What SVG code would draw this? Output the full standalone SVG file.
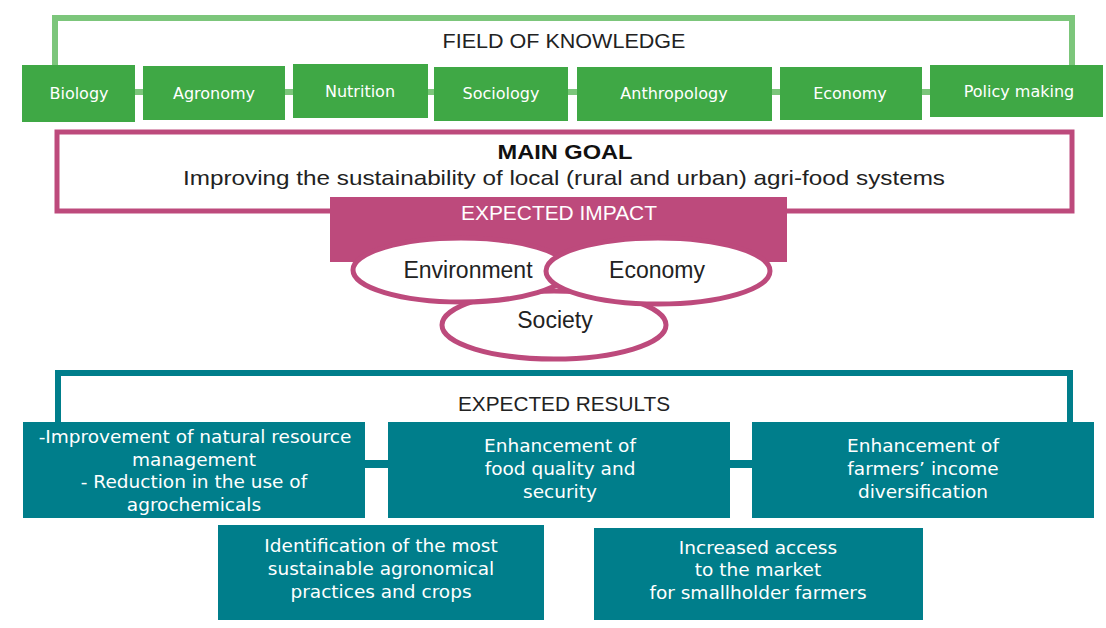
<svg xmlns="http://www.w3.org/2000/svg" width="1106" height="628" viewBox="0 0 1106 628">
<style>
.g{fill:#3fa845}
.gt{font-family:"DejaVu Sans",Verdana,sans-serif;font-size:16px;fill:#fff;text-anchor:middle}
.t{fill:#007e8b}
.tt{font-family:"DejaVu Sans",Verdana,sans-serif;font-size:18.5px;fill:#fff;text-anchor:middle}
.h{font-family:"Liberation Sans",Arial,sans-serif;font-size:21px;fill:#222;text-anchor:middle}
.el{fill:#fff;stroke:#bd4a7c;stroke-width:5}
.et{font-family:"Liberation Sans",Arial,sans-serif;font-size:23px;fill:#222;text-anchor:middle}
</style>
<rect width="1106" height="628" fill="#fff"/>
<g id="connectors">
  <path d="M55,66 V18 H1072 V66" fill="none" stroke="#7cc67b" stroke-width="6"/>
  <line x1="130" y1="92" x2="935" y2="92" stroke="#7cc67b" stroke-width="6"/>
  <path d="M58,423 V373 H1070 V423" fill="none" stroke="#007e8b" stroke-width="6"/>
  <line x1="360" y1="464" x2="760" y2="464" stroke="#007e8b" stroke-width="8"/>
</g>
<g id="field-title"><text class="h" x="564" y="48" textLength="243" lengthAdjust="spacingAndGlyphs">FIELD OF KNOWLEDGE</text></g>
<g id="biology"><rect class="g" x="22" y="65" width="113" height="57"/><text class="gt" x="79" y="99">Biology</text></g>
<g id="agronomy"><rect class="g" x="143" y="66" width="142" height="54"/><text class="gt" x="214" y="99">Agronomy</text></g>
<g id="nutrition"><rect class="g" x="293" y="64" width="135" height="54"/><text class="gt" x="360" y="97">Nutrition</text></g>
<g id="sociology"><rect class="g" x="434" y="67" width="134" height="54"/><text class="gt" x="501" y="99">Sociology</text></g>
<g id="anthropology"><rect class="g" x="577" y="67" width="195" height="54"/><text class="gt" x="674" y="99">Anthropology</text></g>
<g id="economy-field"><rect class="g" x="780" y="67" width="142" height="53"/><text class="gt" x="850" y="99">Economy</text></g>
<g id="policy"><rect class="g" x="930" y="65" width="173" height="52"/><text class="gt" x="1019" y="97">Policy making</text></g>
<g id="main-goal">
  <rect x="57" y="132" width="1015" height="79" fill="#fff" stroke="#bd4a7c" stroke-width="5"/>
  <text x="565" y="159" font-family="Liberation Sans,Arial,sans-serif" font-size="21" font-weight="bold" fill="#111" text-anchor="middle" textLength="135" lengthAdjust="spacingAndGlyphs">MAIN GOAL</text>
  <text x="564" y="185" font-family="Liberation Sans,Arial,sans-serif" font-size="21" fill="#222" text-anchor="middle" textLength="762" lengthAdjust="spacingAndGlyphs">Improving the sustainability of local (rural and urban) agri-food systems</text>
</g>
<g id="expected-impact">
  <rect x="330" y="197" width="457" height="65" fill="#bd4a7c"/>
  <text x="559" y="220" font-family="Liberation Sans,Arial,sans-serif" font-size="21" fill="#fff" text-anchor="middle" textLength="196" lengthAdjust="spacingAndGlyphs">EXPECTED IMPACT</text>
</g>
<g id="society"><ellipse class="el" cx="554" cy="325" rx="112" ry="34"/><text class="et" x="555" y="328">Society</text></g>
<g id="environment"><ellipse class="el" cx="461" cy="270" rx="108" ry="32"/><text class="et" x="468" y="278">Environment</text></g>
<g id="economy"><ellipse class="el" cx="658" cy="271" rx="112" ry="33"/><text class="et" x="657" y="278">Economy</text></g>
<g id="results-title"><text class="h" x="564" y="411" textLength="212" lengthAdjust="spacingAndGlyphs">EXPECTED RESULTS</text></g>
<g id="r1"><rect class="t" x="23" y="422" width="342" height="96"/>
  <text class="tt" x="195" y="443">-Improvement of natural resource</text>
  <text class="tt" x="194" y="466">management</text>
  <text class="tt" x="194" y="488">- Reduction in the use of</text>
  <text class="tt" x="194" y="511">agrochemicals</text></g>
<g id="r2"><rect class="t" x="388" y="422" width="342" height="96"/>
  <text class="tt" x="560" y="452">Enhancement of</text>
  <text class="tt" x="560" y="475">food quality and</text>
  <text class="tt" x="560" y="498">security</text></g>
<g id="r3"><rect class="t" x="752" y="422" width="342" height="96"/>
  <text class="tt" x="923" y="452">Enhancement of</text>
  <text class="tt" x="923" y="475">farmers’ income</text>
  <text class="tt" x="923" y="498">diversification</text></g>
<g id="r4"><rect class="t" x="218" y="525" width="326" height="95"/>
  <text class="tt" x="381" y="552">Identification of the most</text>
  <text class="tt" x="381" y="575">sustainable agronomical</text>
  <text class="tt" x="381" y="598">practices and crops</text></g>
<g id="r5"><rect class="t" x="594" y="528" width="329" height="92"/>
  <text class="tt" x="758" y="554">Increased access</text>
  <text class="tt" x="758" y="576">to the market</text>
  <text class="tt" x="758" y="599">for smallholder farmers</text></g>
</svg>
